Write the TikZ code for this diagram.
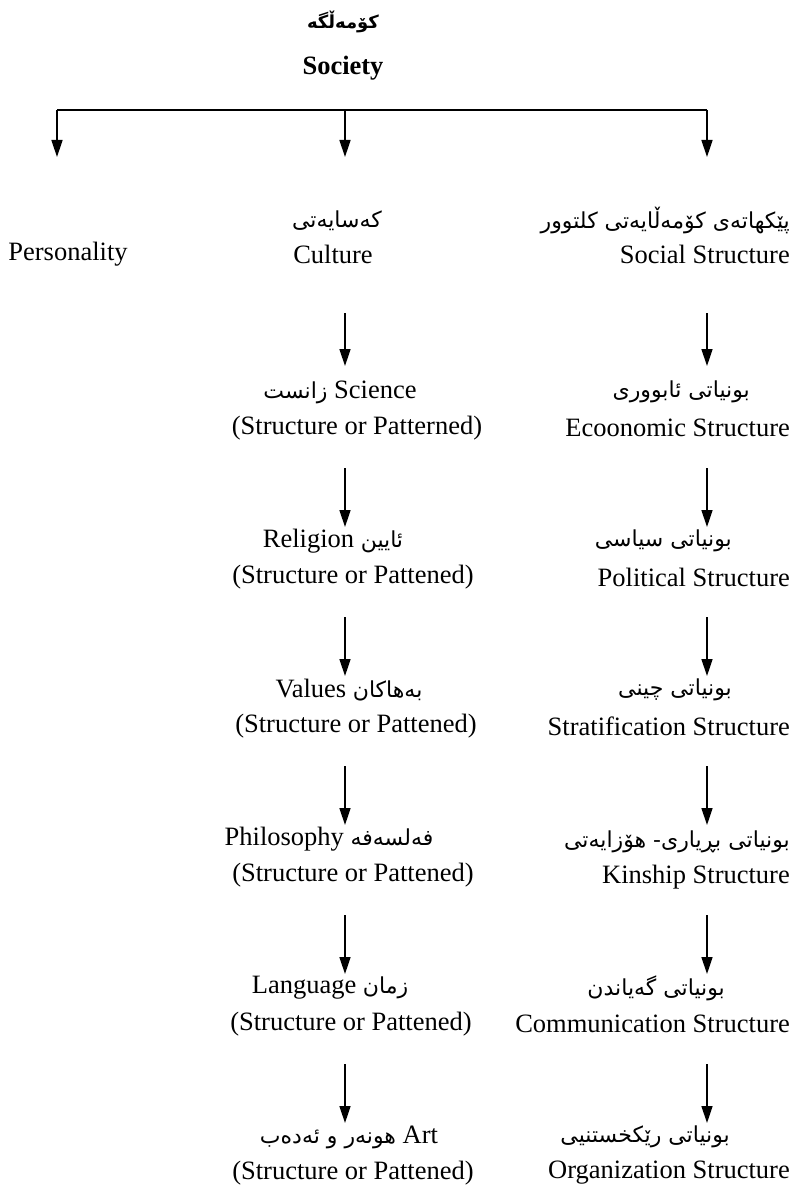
\documentclass[tikz,border=0pt]{standalone}
\usepackage{fontspec}
\setmainfont{Liberation Serif}
\newfontfamily\kurd[Script=Arabic]{DejaVu Sans}
\TeXXeTstate=1
\usetikzlibrary{arrows.meta}
\newcommand\KU[1]{{\fontsize{22}{26}\selectfont\kurd\beginR #1\endR}}
\newcommand\KUB[1]{{\fontsize{18}{22}\selectfont\kurd\bfseries\beginR #1\endR}}
\begin{document}
\begin{tikzpicture}[x=1pt,y=-1pt,
  every node/.style={inner sep=0pt, font=\fontsize{26.5}{30}\selectfont},
  arr/.style={line width=1.5pt,-{Triangle[width=11pt,length=17pt]}},
  ln/.style={line width=1.5pt},
  re/.style={anchor=east}]
\useasboundingbox (0,0) rectangle (794,1190);
% title
\node (kt) at (343,22) {\KUB{کۆمەڵگە}};
\node (soc) at (343,68) {\bfseries Society};
\coordinate (hl) at (57,110);
\coordinate (hm) at (345,110);
\coordinate (hr) at (707,110);
\coordinate (tl) at (57,157);
\coordinate (tm) at (345,157);
\coordinate (tr) at (707,157);
\draw[ln] (hl) -- (hr);
\draw[arr] (hl) -- (tl);
\draw[arr] (hm) -- (tm);
\draw[arr] (hr) -- (tr);
% first level
\node (pers) at (68,254) {Personality};
\node (cultk) at (337,221) {\KU{کەسایەتی}};
\node (cult) at (333,254) {Culture};
\node[re] (sock) at (790,221) {\KU{پێکهاتەی کۆمەڵایەتی کلتوور}};
\node[re] (socs) at (790,254) {Social Structure};
% middle column
\node (sci) at (340,392) {\KU{زانست} Science};
\node (sci2) at (357,428) {(Structure or Patterned)};
\node (rel) at (333,541) {Religion \KU{ئایین}};
\node (rel2) at (353,577) {(Structure or Pattened)};
\node (val) at (349,690) {Values \KU{بەهاکان}};
\node (val2) at (356,726) {(Structure or Pattened)};
\node (phi) at (329,839) {Philosophy \KU{فەلسەفە}};
\node (phi2) at (353,875) {(Structure or Pattened)};
\node (lan) at (330,988) {Language \KU{زمان}};
\node (lan2) at (351,1024) {(Structure or Pattened)};
\node (art) at (349,1137) {\KU{هونەر و ئەدەب} Art};
\node (art2) at (353,1173) {(Structure or Pattened)};
% right column
\node[re] (eco) at (750,392) {\KU{بونیاتی ئابووری}};
\node[re] (eco2) at (790,428) {Ecoonomic Structure};
\node[re] (pol) at (732,541) {\KU{بونیاتی سیاسی}};
\node[re] (pol2) at (790,577) {Political Structure};
\node[re] (str) at (732,690) {\KU{بونیاتی چینی}};
\node[re] (str2) at (790,726) {Stratification Structure};
\node[re] (kin) at (790,842) {\KU{بونیاتی بڕیاری- هۆزایەتی}};
\node[re] (kin2) at (790,877) {Kinship Structure};
\node[re] (com) at (725,988) {\KU{بونیاتی گەیاندن}};
\node[re] (com2) at (790,1024) {Communication Structure};
\node[re] (org) at (730,1137) {\KU{بونیاتی رێکخستنیی}};
\node[re] (org2) at (790,1173) {Organization Structure};
% arrows middle
\foreach \n/\a/\b in {m0/313/366, m1/468/527, m2/617/676, m3/766/825, m4/915/974, m5/1064/1123}{
  \coordinate (\n s) at (345,\a);
  \coordinate (\n e) at (345,\b);
  \draw[arr] (\n s) -- (\n e);
}
\foreach \n/\a/\b in {r0/313/366, r1/468/527, r2/617/676, r3/766/825, r4/915/974, r5/1064/1123}{
  \coordinate (\n s) at (707,\a);
  \coordinate (\n e) at (707,\b);
  \draw[arr] (\n s) -- (\n e);
}
\end{tikzpicture}
\end{document}
